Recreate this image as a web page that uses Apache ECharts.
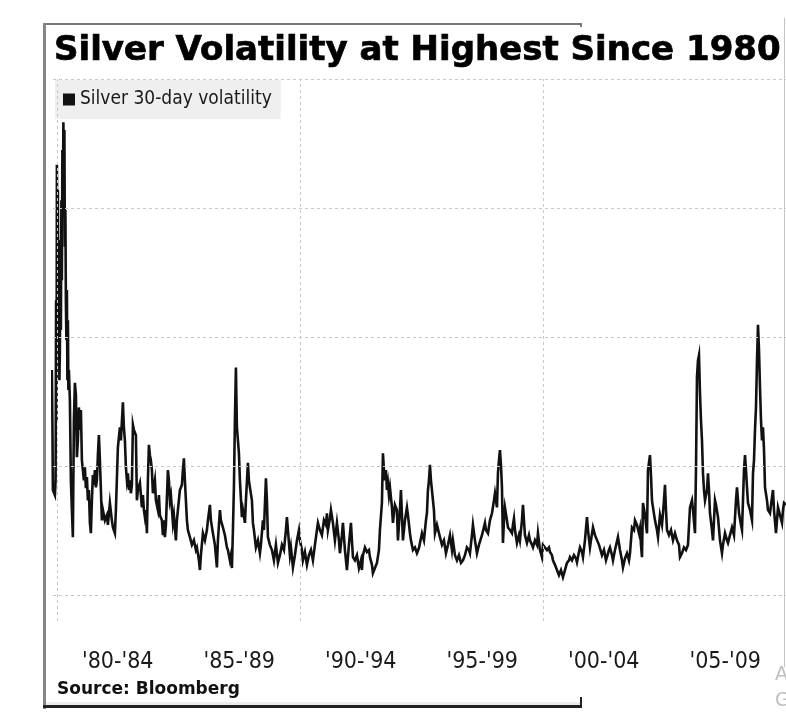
<!DOCTYPE html>
<html>
<head>
<meta charset="utf-8">
<script src="https://cdn.jsdelivr.net/npm/echarts@6/dist/echarts.min.js"></script>
<style>html,body{margin:0;padding:0;background:#fff;}#c{width:786px;height:723px;}</style>
</head>
<body>
<div id="c"></div>
<script>
const titleText = "Silver Volatility at Highest Since 1980";
const seriesName = "Silver 30-day volatility";
const sourceText = "Source: Bloomberg";
const periodLabels = ["'80-'84", "'85-'89", "'90-'94", "'95-'99", "'00-'04", "'05-'09"];
const yGridValues = [20, 40, 60, 80, 100];
const xGridYears = [1980, 1990, 2000];

const years = [
1979.794,1979.815,1979.835,1979.918,1979.947,1979.967,1979.984,1980.000,1980.021,1980.041,1980.062,1980.082,1980.103,1980.123,1980.144,1980.165,1980.185,1980.206,1980.226,1980.247,1980.267,1980.288,1980.309,1980.329,1980.350,1980.370,1980.391,1980.412,1980.432,1980.453,1980.473,1980.494,1980.535,
1980.576,1980.617,1980.658,1980.700,1980.741,1980.782,1980.823,1980.864,1980.905,1980.947,1980.988,
1981.029,1981.070,1981.111,1981.152,1981.193,1981.235,1981.276,1981.317,1981.358,1981.399,1981.440,1981.481,1981.523,1981.564,1981.605,1981.646,1981.687,1981.728,1981.770,1981.811,1981.852,1981.893,1981.975,
1982.058,1982.099,1982.181,1982.263,1982.305,1982.387,1982.428,1982.510,1982.593,1982.634,1982.716,1982.757,1982.798,1982.840,1982.881,1982.922,1982.963,
1983.004,1983.045,1983.086,1983.128,1983.169,1983.251,1983.292,1983.333,1983.416,1983.457,1983.498,1983.539,1983.580,1983.621,1983.663,1983.704,1983.745,1983.786,1983.827,1983.868,1983.909,1983.951,
1984.033,1984.074,1984.156,1984.198,1984.239,1984.321,1984.362,1984.403,1984.444,1984.486,1984.568,1984.609,1984.650,1984.691,1984.774,1984.815,1984.897,1984.938,1984.979,
1985.062,1985.144,1985.185,1985.226,1985.267,1985.350,1985.391,1985.473,1985.556,1985.638,1985.720,1985.761,1985.844,1985.885,1985.926,
1986.008,1986.091,1986.173,1986.214,1986.296,1986.337,1986.420,1986.502,1986.584,1986.626,1986.708,1986.749,1986.831,1986.914,1986.996,
1987.037,1987.119,1987.160,1987.202,1987.243,1987.284,1987.325,1987.366,1987.407,1987.449,1987.490,1987.531,1987.613,1987.654,1987.737,1987.778,1987.860,1987.901,1987.942,
1988.025,1988.066,1988.107,1988.189,1988.272,1988.354,1988.395,1988.477,1988.519,1988.601,1988.642,1988.683,1988.765,1988.848,1988.930,
1989.012,1989.095,1989.177,1989.259,1989.342,1989.424,1989.465,1989.506,1989.588,1989.630,1989.712,1989.794,1989.877,1989.959,
1990.000,1990.082,1990.123,1990.206,1990.288,1990.370,1990.453,1990.535,1990.617,1990.700,1990.741,1990.823,1990.905,1990.988,
1991.070,1991.111,1991.152,1991.235,1991.276,1991.358,1991.440,1991.523,1991.605,1991.646,1991.728,1991.770,1991.852,1991.934,
1992.016,1992.099,1992.140,1992.181,1992.263,1992.346,1992.428,1992.510,1992.551,1992.593,1992.675,1992.757,1992.840,1992.881,1992.963,
1993.004,1993.086,1993.169,1993.251,1993.292,1993.374,1993.416,1993.457,1993.498,1993.539,1993.580,1993.621,1993.663,1993.704,1993.786,1993.827,1993.909,1993.992,
1994.033,1994.115,1994.156,1994.198,1994.239,1994.321,1994.403,1994.444,1994.527,1994.568,1994.650,1994.733,1994.815,1994.897,1994.938,
1995.021,1995.103,1995.185,1995.226,1995.267,1995.309,1995.350,1995.391,1995.432,1995.514,1995.556,1995.638,1995.679,1995.761,1995.844,1995.926,
1996.008,1996.091,1996.173,1996.255,1996.296,1996.379,1996.461,1996.543,1996.626,1996.708,1996.790,1996.872,1996.955,1996.996,
1997.078,1997.119,1997.202,1997.284,1997.366,1997.407,1997.490,1997.531,1997.613,1997.654,1997.737,1997.819,1997.901,1997.984,
1998.025,1998.066,1998.107,1998.148,1998.189,1998.230,1998.272,1998.313,1998.354,1998.395,1998.436,1998.519,1998.560,1998.642,1998.724,1998.765,1998.807,1998.848,1998.930,
1999.012,1999.053,1999.136,1999.177,1999.218,1999.259,1999.342,1999.424,1999.465,1999.547,1999.588,1999.671,1999.753,1999.794,1999.877,1999.959,
2000.000,2000.082,2000.165,2000.247,2000.288,2000.370,2000.412,2000.494,2000.576,2000.658,2000.741,2000.823,2000.905,2000.988,
2001.070,2001.111,2001.193,2001.276,2001.358,2001.399,2001.481,2001.523,2001.605,2001.646,2001.728,2001.811,2001.852,2001.934,2001.975,
2002.058,2002.140,2002.222,2002.305,2002.346,2002.428,2002.510,2002.593,2002.634,2002.716,2002.757,2002.840,2002.881,2002.963,
2003.086,2003.169,2003.251,2003.292,2003.374,2003.457,2003.539,2003.580,2003.663,2003.745,2003.786,2003.868,2003.951,2003.992,
2004.033,2004.074,2004.115,2004.198,2004.280,2004.321,2004.403,2004.444,2004.486,2004.527,2004.609,2004.691,2004.733,2004.815,2004.897,2004.938,2004.979,
2005.021,2005.062,2005.103,2005.185,2005.267,2005.350,2005.432,2005.514,2005.597,2005.638,2005.720,2005.802,2005.885,2005.967,
2006.049,2006.132,2006.173,2006.255,2006.296,2006.337,2006.379,2006.420,2006.461,2006.502,2006.543,2006.584,2006.626,2006.667,2006.749,2006.790,2006.831,2006.872,2006.955,2006.996,
2007.078,2007.119,2007.202,2007.284,2007.366,2007.407,2007.490,2007.572,2007.613,2007.695,2007.778,2007.860,2007.901,2007.942,2007.984,
2008.025,2008.066,2008.148,2008.189,2008.230,2008.272,2008.313,2008.354,2008.395,2008.436,2008.519,2008.601,2008.642,2008.683,2008.724,2008.765,2008.807,2008.848,2008.889,2008.930,2008.971,
2009.012,2009.053,2009.095,2009.136,2009.218,2009.259,2009.342,2009.383,2009.465,2009.506,2009.588,2009.630,2009.671,2009.753,2009.835,2009.877,2009.918,2010.000
];

const volatility = [
54.9,47.1,36.3,35.5,37.8,65.7,47.1,86.7,71.9,82.8,59.5,75.0,53.3,57.7,73.5,61.1,81.2,68.8,89.0,79.7,93.3,85.9,92.1,74.0,79.7,65.7,59.5,67.3,53.3,62.6,51.8,54.9,50.2,
37.8,33.2,29.0,47.1,52.9,51.0,41.4,44.0,49.1,45.6,48.7,
40.9,39.4,37.8,39.8,36.6,38.3,34.7,36.3,31.2,29.6,34.7,38.6,37.1,39.4,36.7,37.8,41.7,44.8,40.9,36.3,31.6,33.2,31.6,
32.4,30.9,34.3,31.6,30.5,29.6,33.2,42.9,46.0,44.0,49.9,46.0,44.0,39.8,37.8,38.9,36.3,
37.8,35.8,37.1,46.4,45.6,44.8,34.7,36.3,37.4,35.5,33.6,35.5,33.2,32.1,33.2,29.6,37.8,43.3,41.7,40.9,39.4,35.8,
37.8,34.7,33.2,35.5,32.4,31.6,29.3,31.6,29.0,30.9,39.4,37.8,34.7,35.5,31.2,32.4,28.5,31.6,33.2,
36.3,37.1,39.4,41.2,37.8,31.6,30.1,29.0,27.8,28.5,27.0,27.4,25.4,23.9,26.2,
29.6,28.5,30.1,31.6,34.0,31.6,29.6,27.8,24.3,28.5,33.2,31.6,30.5,29.3,27.4,
27.0,25.4,26.2,24.2,30.1,36.7,47.1,55.3,46.0,44.0,42.0,37.8,32.1,33.2,31.2,34.7,40.5,37.8,36.7,
34.7,31.2,30.1,27.4,28.5,26.5,27.8,31.6,30.1,38.1,34.7,29.0,27.8,27.0,25.4,
27.8,25.0,26.2,27.8,27.0,30.1,32.1,30.1,26.2,27.4,24.3,26.2,28.5,30.1,
28.5,27.0,25.4,26.7,24.7,26.2,27.0,25.4,27.8,30.1,31.2,30.1,29.3,31.6,
30.9,32.7,30.1,31.9,33.2,31.2,28.5,31.2,28.5,26.5,29.3,31.2,27.0,23.9,
27.8,31.2,28.5,25.9,25.4,26.2,24.2,25.4,23.9,26.2,27.4,26.7,27.0,25.9,24.7,
23.4,24.2,25.0,27.0,30.1,34.3,42.0,39.4,37.8,39.4,36.3,37.4,35.5,36.7,33.6,31.2,34.0,33.2,
28.5,33.2,36.3,32.4,28.5,31.6,33.6,32.4,29.6,28.5,27.0,27.4,26.5,27.3,27.0,
29.6,28.5,31.6,32.7,36.3,37.8,40.2,37.8,36.3,33.2,29.6,30.9,31.2,29.0,27.8,28.5,
26.5,27.8,29.3,27.0,28.5,26.2,25.4,26.2,25.0,25.4,26.2,27.4,27.0,26.5,
29.3,30.9,28.5,26.5,27.8,28.1,29.3,29.6,31.2,30.1,29.6,31.6,32.7,34.7,
35.8,34.7,33.6,38.9,40.9,42.5,40.2,36.7,28.1,31.6,33.6,31.6,30.5,30.1,29.6,30.9,31.9,30.1,28.1,
29.3,28.5,31.6,34.0,31.6,29.3,28.1,29.3,28.5,27.8,27.4,28.5,27.8,29.6,27.0,25.9,
27.8,28.1,27.0,27.4,26.7,26.2,25.4,24.7,23.9,23.1,23.9,22.8,23.9,25.0,
25.4,25.9,25.4,26.2,25.7,25.1,26.7,27.4,26.7,25.9,28.5,32.1,30.1,27.4,28.5,
30.5,29.3,29.0,27.8,28.1,26.2,27.0,25.4,25.7,27.0,27.4,26.2,25.4,27.0,
29.0,27.0,25.4,24.3,25.7,26.5,25.4,26.5,30.5,30.1,31.6,30.9,29.6,30.4,
27.8,25.9,34.3,32.4,29.6,39.4,41.7,38.6,34.7,33.6,31.6,30.1,29.0,32.4,30.9,32.7,34.7,
37.1,33.2,30.1,29.3,30.1,28.5,29.6,28.5,27.8,25.9,26.5,27.4,27.0,27.8,
33.6,34.7,33.2,29.6,39.4,53.8,56.4,57.2,51.3,47.1,44.0,38.9,36.3,34.7,36.3,38.9,36.3,32.7,30.1,28.5,
34.7,34.0,32.1,28.5,26.5,27.8,29.6,28.5,28.1,29.3,30.5,29.3,29.6,34.7,36.7,
34.7,32.7,30.9,30.1,34.7,39.4,41.7,39.4,36.7,34.3,33.2,31.6,38.9,40.9,45.6,49.1,56.4,61.9,58.0,52.2,47.1,
44.0,46.0,42.5,36.7,34.7,33.2,32.7,34.0,36.3,33.2,29.6,31.6,33.6,32.4,31.2,33.2,34.3,34.0
];

const chart = echarts.init(document.getElementById('c'), null, {renderer: 'canvas'});
const points = years.map((y, i) => [y, volatility[i]]);
const gridLine = {type: [3, 3], color: '#c8c8c8', width: 1};
const regularFont = "'DejaVu Sans Condensed', 'DejaVu Sans', sans-serif";

chart.setOption({
  animation: false,
  backgroundColor: '#ffffff',
  title: {
    text: titleText, left: 54, top: 34, padding: 0,
    textStyle: {fontFamily: 'DejaVu Sans', fontWeight: 'bold', fontSize: 34, color: '#000',
      textBorderColor: '#000', textBorderWidth: 0.7}
  },
  legend: {
    data: [seriesName], left: 55, top: 80, padding: [10, 9, 10, 8],
    backgroundColor: '#efefef', icon: 'rect', itemWidth: 12, itemHeight: 12, itemGap: 5,
    textStyle: {fontFamily: regularFont, fontSize: 19, color: '#1a1a1a'}
  },
  grid: [
    {left: 53, right: 0, top: 79, bottom: 102},
    {left: 57, right: 0, top: 595, bottom: 102}
  ],
  xAxis: [
    {type: 'value', gridIndex: 0, min: 1979.84, max: 2010, show: false},
    {type: 'category', gridIndex: 1, data: periodLabels, boundaryGap: true,
     axisLine: {show: false}, axisTick: {show: false}, splitLine: {show: false},
     axisLabel: {margin: 30, fontFamily: regularFont, fontSize: 23, color: '#1a1a1a'}}
  ],
  yAxis: [
    {type: 'value', gridIndex: 0, min: 16, max: 100, show: false},
    {type: 'value', gridIndex: 1, show: false}
  ],
  series: [
    {
      type: 'line', xAxisIndex: 0, yAxisIndex: 0, data: [], silent: true, z: 1,
      markLine: {
        silent: true, symbol: 'none', label: {show: false}, lineStyle: gridLine,
        data: yGridValues.map(v => ({yAxis: v})).concat(xGridYears.map(v => ({xAxis: v})))
      }
    },
    {
      name: seriesName, type: 'line', xAxisIndex: 0, yAxisIndex: 0, data: points, z: 3,
      showSymbol: false, symbol: 'none', lineStyle: {color: '#111', width: 2.6, join: 'miter'},
      itemStyle: {color: '#111'}
    }
  ],
  graphic: [
    {type: 'rect', shape: {x: 45, y: 23, width: 537, height: 2}, style: {fill: '#777'}, silent: true},
    {type: 'rect', shape: {x: 580, y: 23, width: 2, height: 4}, style: {fill: '#777'}, silent: true},
    {type: 'rect', shape: {x: 43, y: 23, width: 3, height: 686}, style: {fill: '#858585'}, silent: true},
    {type: 'rect', shape: {x: 46, y: 702, width: 534, height: 3}, style: {fill: '#ececec'}, silent: true},
    {type: 'rect', shape: {x: 43, y: 705, width: 539, height: 3}, style: {fill: '#222'}, silent: true},
    {type: 'rect', shape: {x: 580, y: 697, width: 2, height: 11}, style: {fill: '#222'}, silent: true},
    {type: 'line', shape: {x1: 784.5, y1: 18, x2: 784.5, y2: 667}, style: {stroke: '#c4c4c4', lineWidth: 1}, silent: true},
    {type: 'text', left: 57, top: 681, style: {text: sourceText, font: "bold 17px 'DejaVu Sans'", fill: '#111'}, silent: true},
    {type: 'text', left: 775, top: 666, style: {text: 'A', font: "19px 'DejaVu Sans'", fill: '#c0c0c0'}, silent: true},
    {type: 'text', left: 775, top: 692, style: {text: 'G', font: "19px 'DejaVu Sans'", fill: '#c0c0c0'}, silent: true}
  ]
});
</script>
</body>
</html>
